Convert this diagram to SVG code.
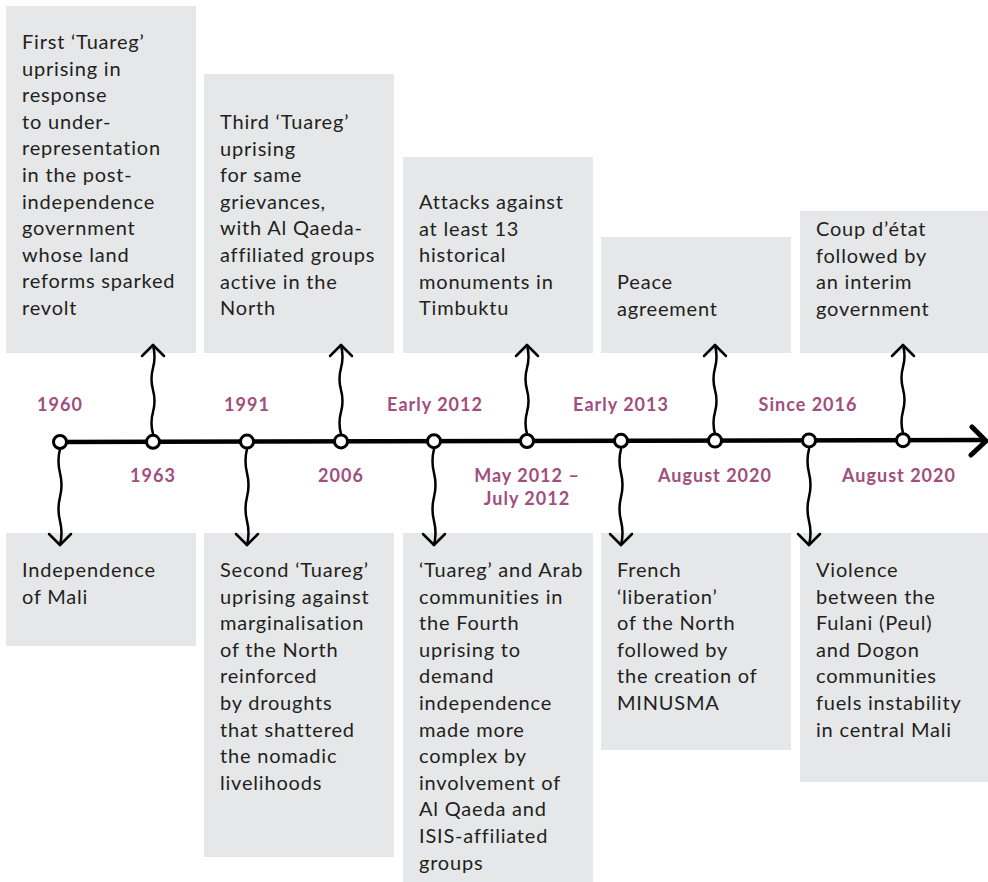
<svg xmlns="http://www.w3.org/2000/svg" width="988" height="882" viewBox="0 0 988 882">
<style>
.box{fill:#E6E7E8}
.t{font-family:Lato,"Liberation Sans",sans-serif;font-size:20px;letter-spacing:0.8px;fill:#231F20}
.d{font-family:Lato,"Liberation Sans",sans-serif;font-size:18px;letter-spacing:1px;font-weight:bold;fill:#A14E7D;text-anchor:middle}
.w{fill:none;stroke:#000;stroke-width:2.5;stroke-linecap:round;stroke-linejoin:round}
.n{fill:#fff;stroke:#000;stroke-width:3}
</style>
<rect width="988" height="882" fill="#fff"/>
<g id="boxes-top">
<g id="n1963"><rect class="box" x="6" y="6" width="190" height="347"/>
<text class="t" x="22" y="49"><tspan x="22">First ‘Tuareg’</tspan><tspan x="22" dy="26.6">uprising in</tspan><tspan x="22" dy="26.6">response</tspan><tspan x="22" dy="26.6">to under-</tspan><tspan x="22" dy="26.6">representation</tspan><tspan x="22" dy="26.6">in the post-</tspan><tspan x="22" dy="26.6">independence</tspan><tspan x="22" dy="26.6">government</tspan><tspan x="22" dy="26.6">whose land</tspan><tspan x="22" dy="26.6">reforms sparked</tspan><tspan x="22" dy="26.6">revolt</tspan></text></g>
<g id="n2006"><rect class="box" x="204" y="74" width="190" height="279"/>
<text class="t" x="220" y="129"><tspan x="220">Third ‘Tuareg’</tspan><tspan x="220" dy="26.6">uprising</tspan><tspan x="220" dy="26.6">for same</tspan><tspan x="220" dy="26.6">grievances,</tspan><tspan x="220" dy="26.6">with Al Qaeda-</tspan><tspan x="220" dy="26.6">affiliated groups</tspan><tspan x="220" dy="26.6">active in the</tspan><tspan x="220" dy="26.6">North</tspan></text></g>
<g id="nmay2012"><rect class="box" x="403" y="157" width="190" height="196"/>
<text class="t" x="419" y="209"><tspan x="419">Attacks against</tspan><tspan x="419" dy="26.6">at least 13</tspan><tspan x="419" dy="26.6">historical</tspan><tspan x="419" dy="26.6">monuments in</tspan><tspan x="419" dy="26.6">Timbuktu</tspan></text></g>
<g id="naug2020a"><rect class="box" x="601" y="237" width="190" height="116"/>
<text class="t" x="617" y="289"><tspan x="617">Peace</tspan><tspan x="617" dy="26.6">agreement</tspan></text></g>
<g id="naug2020b"><rect class="box" x="800" y="211" width="188" height="142"/>
<text class="t" x="816" y="236"><tspan x="816">Coup d’état</tspan><tspan x="816" dy="26.6">followed by</tspan><tspan x="816" dy="26.6">an interim</tspan><tspan x="816" dy="26.6">government</tspan></text></g>
</g>
<g id="boxes-bottom">
<g id="n1960"><rect class="box" x="6" y="533" width="190" height="113"/>
<text class="t" x="22" y="577"><tspan x="22">Independence</tspan><tspan x="22" dy="26.6">of Mali</tspan></text></g>
<g id="n1991"><rect class="box" x="204" y="533" width="190" height="324"/>
<text class="t" x="220" y="577"><tspan x="220">Second ‘Tuareg’</tspan><tspan x="220" dy="26.6">uprising against</tspan><tspan x="220" dy="26.6">marginalisation</tspan><tspan x="220" dy="26.6">of the North</tspan><tspan x="220" dy="26.6">reinforced</tspan><tspan x="220" dy="26.6">by droughts</tspan><tspan x="220" dy="26.6">that shattered</tspan><tspan x="220" dy="26.6">the nomadic</tspan><tspan x="220" dy="26.6">livelihoods</tspan></text></g>
<g id="nearly2012"><rect class="box" x="403" y="533" width="190" height="349"/>
<text class="t" x="419" y="577"><tspan x="419">‘Tuareg’ and Arab</tspan><tspan x="419" dy="26.6">communities in</tspan><tspan x="419" dy="26.6">the Fourth</tspan><tspan x="419" dy="26.6">uprising to</tspan><tspan x="419" dy="26.6">demand</tspan><tspan x="419" dy="26.6">independence</tspan><tspan x="419" dy="26.6">made more</tspan><tspan x="419" dy="26.6">complex by</tspan><tspan x="419" dy="26.6">involvement of</tspan><tspan x="419" dy="26.6">Al Qaeda and</tspan><tspan x="419" dy="26.6">ISIS-affiliated</tspan><tspan x="419" dy="26.6">groups</tspan></text></g>
<g id="nearly2013"><rect class="box" x="601" y="533" width="190" height="217"/>
<text class="t" x="617" y="577"><tspan x="617">French</tspan><tspan x="617" dy="26.6">‘liberation’</tspan><tspan x="617" dy="26.6">of the North</tspan><tspan x="617" dy="26.6">followed by</tspan><tspan x="617" dy="26.6">the creation of</tspan><tspan x="617" dy="26.6">MINUSMA</tspan></text></g>
<g id="nsince2016"><rect class="box" x="800" y="533" width="188" height="249"/>
<text class="t" x="816" y="577"><tspan x="816">Violence</tspan><tspan x="816" dy="26.6">between the</tspan><tspan x="816" dy="26.6">Fulani (Peul)</tspan><tspan x="816" dy="26.6">and Dogon</tspan><tspan x="816" dy="26.6">communities</tspan><tspan x="816" dy="26.6">fuels instability</tspan><tspan x="816" dy="26.6">in central Mali</tspan></text></g>
</g>
<g id="connectors">
<path d="M60,442 L985,440" fill="none" stroke="#000" stroke-width="4.5"/>
<path d="M972,427 L986,441 L971,455" fill="none" stroke="#000" stroke-width="5" stroke-linecap="round" stroke-linejoin="round"/>
<g class="w">
<path d="M153,434 q-3,-11 0,-22 t0,-22 t0,-22 t0,-23"/><path d="M142,356 L153,345 L164,356"/>
<path d="M341,434 q-3,-11 0,-22 t0,-22 t0,-22 t0,-23"/><path d="M330,356 L341,345 L352,356"/>
<path d="M527,434 q-3,-11 0,-22 t0,-22 t0,-22 t0,-23"/><path d="M516,356 L527,345 L538,356"/>
<path d="M715,434 q-3,-11 0,-22 t0,-22 t0,-22 t0,-23"/><path d="M704,356 L715,345 L726,356"/>
<path d="M903,433 q-3,-11 0,-22 t0,-22 t0,-22 t0,-22"/><path d="M892,356 L903,345 L914,356"/>
<path d="M60,449 q-3,12 0,24 t0,24 t0,24 t0,24"/><path d="M49,534 L60,545 L71,534"/>
<path d="M247,449 q-3,12 0,24 t0,24 t0,24 t0,24"/><path d="M236,534 L247,545 L258,534"/>
<path d="M434,449 q-3,12 0,24 t0,24 t0,24 t0,24"/><path d="M423,534 L434,545 L445,534"/>
<path d="M621,449 q-3,12 0,24 t0,24 t0,24 t0,24"/><path d="M610,534 L621,545 L632,534"/>
<path d="M809,449 q-3,12 0,24 t0,24 t0,24 t0,24"/><path d="M798,534 L809,545 L820,534"/>
</g>
</g>
<g id="points">
<circle class="n" cx="60" cy="442" r="6.5"/>
<circle class="n" cx="153" cy="441.8" r="6.5"/>
<circle class="n" cx="247" cy="441.6" r="6.5"/>
<circle class="n" cx="341" cy="441.4" r="6.5"/>
<circle class="n" cx="434" cy="441.2" r="6.5"/>
<circle class="n" cx="527" cy="441" r="6.5"/>
<circle class="n" cx="621" cy="440.8" r="6.5"/>
<circle class="n" cx="715" cy="440.6" r="6.5"/>
<circle class="n" cx="809" cy="440.4" r="6.5"/>
<circle class="n" cx="903" cy="440.2" r="6.5"/>
</g>
<g id="dates">
<text class="d" x="60" y="411">1960</text>
<text class="d" x="153" y="482">1963</text>
<text class="d" x="247" y="411">1991</text>
<text class="d" x="341" y="482">2006</text>
<text class="d" x="435" y="411">Early 2012</text>
<text class="d" x="527" y="482">May 2012 –</text>
<text class="d" x="527" y="505">July 2012</text>
<text class="d" x="621" y="411">Early 2013</text>
<text class="d" x="715" y="482">August 2020</text>
<text class="d" x="808" y="411">Since 2016</text>
<text class="d" x="899" y="482">August 2020</text>
</g>
</svg>
